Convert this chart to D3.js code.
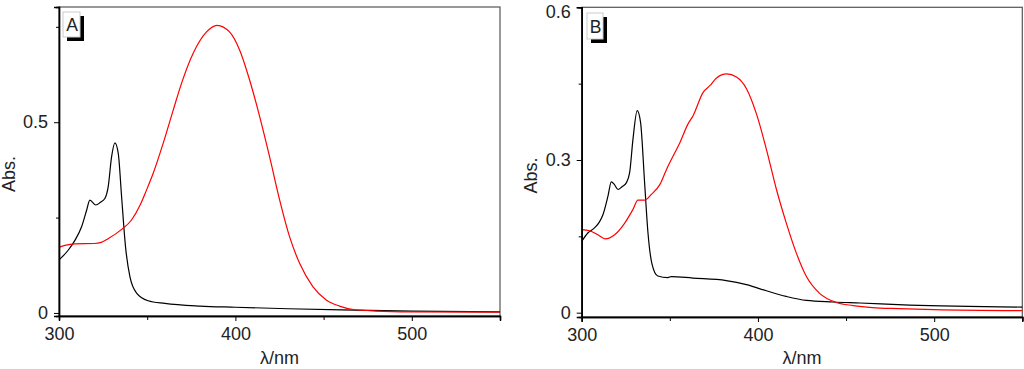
<!DOCTYPE html>
<html>
<head>
<meta charset="utf-8">
<script src="https://cdn.jsdelivr.net/npm/d3@7"></script>
<style>
  html, body { margin: 0; padding: 0; background: #fff; }
  svg { display: block; }
  text { font-family: "Liberation Sans", Arial, sans-serif; fill: #222; }
</style>
</head>
<body>
<svg id="chart" width="1024" height="369"></svg>
<script>
// ---------- Data (wavelength nm, absorbance) ----------
const panelALabel = "A";
const panelBLabel = "B";
const xTickLabels = [300, 400, 500];
const xMinorTicks = [350, 450, 550];
const yTicksA = [0, 0.5];
const yMinorA = [0.25, 0.75];
const yTicksB = [0, 0.3, 0.6];
const yMinorB = [0.15, 0.45];

const aBlack = [
  [300,0.139],[305.3,0.165],[309.1,0.191],[312.8,0.226],[315.7,0.270],[317.5,0.296],
  [320.9,0.283],[323.5,0.290],[326,0.300],[327.9,0.331],[329.8,0.409],[331.7,0.446],
  [333.6,0.418],[335.5,0.304],[337.7,0.174],[340.2,0.095],[344,0.052],[350.5,0.032],
  [360,0.025],[380,0.018],[400,0.015],[430,0.011],[460,0.008],[500,0.005],[550,0.003]
];
const aRed = [
  [300,0.172],[304,0.178],[309,0.181],[320,0.182],[324,0.185],[328,0.195],[335.5,0.219],
  [341,0.243],[346,0.283],[349.6,0.322],[353.4,0.366],[359,0.444],[364.7,0.531],
  [369.4,0.601],[376,0.680],[383.5,0.736],[389.6,0.754],[396.8,0.736],[402.5,0.688],
  [408.1,0.610],[413.8,0.514],[419.4,0.409],[425.1,0.296],[430.7,0.200],[436.4,0.130],
  [443.9,0.069],[451.5,0.034],[459,0.018],[467,0.009],[480,0.005],[500,0.003],[550,0.002]
];
const bBlack = [
  [300,0.140],[303.6,0.157],[307.4,0.167],[310,0.178],[312.1,0.193],[314.9,0.229],
  [316.8,0.257],[318.5,0.252],[320.6,0.242],[323,0.248],[325.3,0.255],[327.2,0.275],
  [329.1,0.341],[331.5,0.397],[333.4,0.374],[335.7,0.255],[337.6,0.157],[339.8,0.097],
  [343.2,0.072],[348.9,0.069],[350.8,0.071],[363,0.068],[382,0.063],[393.5,0.055],
  [404.8,0.043],[416,0.032],[427.5,0.024],[442.6,0.021],[458,0.019],[486,0.015],[550,0.011]
];
const bRed = [
  [300,0.163],[304.5,0.161],[309.2,0.153],[313.4,0.145],[318.7,0.153],[324.4,0.176],
  [329.1,0.203],[331.9,0.221],[335.7,0.221],[339.4,0.232],[344.4,0.252],[348.2,0.282],
  [351.9,0.308],[355.7,0.334],[360.2,0.370],[363.2,0.387],[368.9,0.433],[372.7,0.446],
  [376.5,0.461],[382.2,0.469],[387.8,0.463],[393.5,0.440],[399.2,0.390],[404.8,0.321],
  [410.5,0.242],[416.1,0.176],[421.8,0.117],[427.5,0.071],[435,0.038],[444.5,0.020],
  [454,0.014],[465,0.010],[480,0.008],[500,0.006],[550,0.004]
];

// ---------- Drawing ----------
const svg = d3.select("#chart");
svg.append("rect").attr("width", 1024).attr("height", 369).attr("fill", "#fff");

function drawPanel(cfg) {
  const x = d3.scaleLinear().domain([300, 550]).range([cfg.left, cfg.right]);
  const y = d3.scaleLinear().domain(cfg.yDomain).range([cfg.bottom, cfg.top]);
  const g = svg.append("g");

  // frame
  g.append("rect")
    .attr("x", cfg.left).attr("y", cfg.top)
    .attr("width", cfg.right - cfg.left).attr("height", cfg.bottom - cfg.top)
    .attr("fill", "none").attr("stroke", "#555").attr("stroke-width", 1.2);

  const line = d3.line().x(d => x(d[0])).y(d => y(d[1])).curve(d3.curveMonotoneX);
  g.append("path").datum(cfg.black).attr("d", line)
    .attr("fill", "none").attr("stroke", "#000").attr("stroke-width", 1.2);
  g.append("path").datum(cfg.red).attr("d", line)
    .attr("fill", "none").attr("stroke", "#ff0000").attr("stroke-width", 1.2);

  // axes
  const xAxis = g.append("g").attr("transform", `translate(0,${cfg.bottom})`)
    .call(d3.axisBottom(x).tickValues(xTickLabels).tickSize(5).tickPadding(6).tickFormat(d3.format("d")));
  const xMinor = g.append("g").attr("transform", `translate(0,${cfg.bottom})`)
    .call(d3.axisBottom(x).tickValues(xMinorTicks).tickSize(4).tickFormat(""));
  const yAxis = g.append("g").attr("transform", `translate(${cfg.left},0)`)
    .call(d3.axisLeft(y).tickValues(cfg.yTicks).tickSize(5).tickPadding(6).tickFormat(d => d === 0 ? "0" : d3.format(".1f")(d)));
  const yMinor = g.append("g").attr("transform", `translate(${cfg.left},0)`)
    .call(d3.axisLeft(y).tickValues(cfg.yMinor).tickSize(3).tickFormat(""));
  [xAxis, xMinor, yAxis, yMinor].forEach(a => {
    a.select(".domain").attr("stroke", "#000").attr("stroke-width", 1.4);
    a.selectAll(".tick line").attr("stroke", "#000").attr("stroke-width", 1);
    a.selectAll(".tick text").attr("font-size", 18).attr("font-family", "Liberation Sans, Arial, sans-serif").attr("fill", "#222");
  });
  // keep the top tick label inside the picture
  yAxis.selectAll(".tick text").filter(d => d === 0.6).attr("dy", "0.55em");

  // axis titles
  g.append("text").attr("x", (cfg.left + cfg.right) / 2).attr("y", 364)
    .attr("text-anchor", "middle").attr("font-size", 18).text("λ/nm");
  g.append("text")
    .attr("transform", `translate(${cfg.yTitleX},${cfg.yTitleY}) rotate(-90)`)
    .attr("text-anchor", "middle").attr("font-size", 18).text("Abs.");

  // panel label box with shadow
  g.append("rect").attr("x", cfg.boxX + 4).attr("y", cfg.boxY + 4)
    .attr("width", cfg.boxW).attr("height", cfg.boxH).attr("fill", "#000");
  g.append("rect").attr("x", cfg.boxX).attr("y", cfg.boxY)
    .attr("width", cfg.boxW).attr("height", cfg.boxH)
    .attr("fill", "#fff").attr("stroke", "#ccc").attr("stroke-width", 1);
  g.append("text").attr("x", cfg.boxX + cfg.boxW / 2 + 0.5).attr("y", cfg.boxY + cfg.boxH - 6)
    .attr("text-anchor", "middle").attr("font-size", 17.5).text(cfg.label);
}

drawPanel({
  left: 59, right: 500, top: 7, bottom: 316,
  yDomain: [-0.008, 0.802], yTicks: yTicksA, yMinor: yMinorA,
  black: aBlack, red: aRed, label: panelALabel,
  yTitleX: 15, yTitleY: 174,
  boxX: 63, boxY: 12, boxW: 17, boxH: 25
});
drawPanel({
  left: 581.7, right: 1022.3, top: 7.3, bottom: 317,
  yDomain: [-0.0085, 0.6], yTicks: yTicksB, yMinor: yMinorB,
  black: bBlack, red: bRed, label: panelBLabel,
  yTitleX: 537, yTitleY: 175.5,
  boxX: 587, boxY: 13, boxW: 16, boxH: 26
});
</script>
</body>
</html>
